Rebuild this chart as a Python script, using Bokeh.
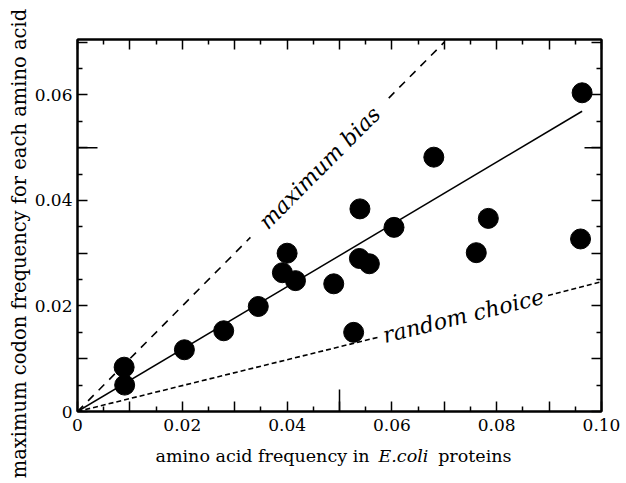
import math
from bokeh.plotting import figure
from bokeh.models import LinearAxis, FixedTicker, Label, Range1d
from bokeh.embed import file_html
from bokeh.resources import INLINE

# ---- data ----
aa_freq = [0.0089, 0.0090, 0.0204, 0.0279, 0.0345, 0.0391, 0.0400, 0.0416, 0.0489,
           0.0527, 0.0539, 0.0538, 0.0557, 0.0604, 0.0680, 0.0761, 0.0784, 0.0960, 0.0963]
codon_freq = [0.0084, 0.0050, 0.0117, 0.0153, 0.0199, 0.0263, 0.0300, 0.0248, 0.0242,
              0.0150, 0.0384, 0.0290, 0.0280, 0.0349, 0.0482, 0.0301, 0.0366, 0.0327, 0.0604]

fit_x = [0.0, 0.0963]
fit_y = [0.0, 0.0569]

maxbias_x1 = [0.0, 0.0330]
maxbias_y1 = [0.0, 0.0330]
maxbias_x2 = [0.0594, 0.0700]
maxbias_y2 = [0.0594, 0.0700]

random_x1 = [0.0, 0.0575]
random_y1 = [0.0, 0.0141]
random_x2 = [0.0898, 0.1000]
random_y2 = [0.0220, 0.0246]

x_ticks = [0.0, 0.01, 0.02, 0.03, 0.04, 0.05, 0.06, 0.07, 0.08, 0.09, 0.10]
x_minor = [0.005, 0.015, 0.025, 0.035, 0.045, 0.055, 0.065, 0.075, 0.085, 0.095]
x_labels = ["0", "", "0.02", "", "0.04", "", "0.06", "", "0.08", "", "0.10"]
y_ticks = [0.0, 0.01, 0.02, 0.03, 0.04, 0.05, 0.06, 0.07]
y_minor = [0.005, 0.015, 0.025, 0.035, 0.045, 0.055, 0.065]
y_labels = ["0", "", "0.02", "", "0.04", "", "0.06", ""]
long_tick = 0.05

X_MIN, X_MAX = 0.0, 0.10
Y_MIN, Y_MAX = 0.0, 0.0705

W, H = 620, 480
BL, BT = 77, 39
BR, BB = W - 601, H - 411
FW, FH = W - BL - BR, H - BT - BB
px_x = FW / (X_MAX - X_MIN)
px_y = FH / (Y_MAX - Y_MIN)

FONT = "DejaVu Serif"

p = figure(width=W, height=H, x_range=Range1d(X_MIN, X_MAX), y_range=Range1d(Y_MIN, Y_MAX),
           output_backend="svg", toolbar_location=None,
           x_axis_location=None, y_axis_location=None,
           min_border_left=BL, min_border_right=BR, min_border_top=BT, min_border_bottom=BB)
p.grid.visible = False
p.outline_line_color = "black"
p.outline_line_width = 2
p.background_fill_color = "white"
p.border_fill_color = "white"


def make_axis(ticks, minor, labels, show_labels):
    ax = LinearAxis(ticker=FixedTicker(ticks=ticks, minor_ticks=minor))
    ax.major_label_overrides = {t: (l if show_labels else "") for t, l in zip(ticks, labels)}
    ax.major_tick_in = 10
    ax.major_tick_out = 0
    ax.minor_tick_in = 5
    ax.minor_tick_out = 0
    ax.axis_line_width = 2
    ax.major_tick_line_width = 1.5
    ax.minor_tick_line_width = 1.5
    ax.major_label_text_font = FONT
    ax.major_label_text_font_size = "17px" if show_labels else "0px"
    ax.major_label_text_color = "black"
    return ax


xb = make_axis(x_ticks, x_minor, x_labels, True)
xb.major_label_standoff = 7
p.add_layout(xb, "below")
yl = make_axis(y_ticks, y_minor, y_labels, True)
yl.major_label_standoff = 5
p.add_layout(yl, "left")
p.add_layout(make_axis(x_ticks, x_minor, x_labels, False), "above")
p.add_layout(make_axis(y_ticks, y_minor, y_labels, False), "right")

# long ticks at 0.05 on bottom, left and right axes
p.segment(x0=[long_tick], y0=[Y_MIN], x1=[long_tick], y1=[Y_MIN + 22 / px_y],
          line_color="black", line_width=1.5)
p.segment(x0=[X_MIN], y0=[long_tick], x1=[X_MIN + 20 / px_x], y1=[long_tick],
          line_color="black", line_width=1.5)
p.segment(x0=[X_MAX], y0=[long_tick], x1=[X_MAX - 17 / px_x], y1=[long_tick],
          line_color="black", line_width=1.5)

# lines
p.line(fit_x, fit_y, line_color="black", line_width=1.5)
for xs, ys in ((maxbias_x1, maxbias_y1), (maxbias_x2, maxbias_y2)):
    p.line(xs, ys, line_color="black", line_width=1.6, line_dash="8 7")
for xs, ys in ((random_x1, random_y1), (random_x2, random_y2)):
    p.line(xs, ys, line_color="black", line_width=1.6, line_dash="5 3")

# points
p.scatter(aa_freq, codon_freq, size=20, color="black")

# line annotations
mb_cx = (maxbias_x1[1] + maxbias_x2[0]) / 2
mb_slope = (maxbias_y2[1] - maxbias_y1[0]) / (maxbias_x2[1] - maxbias_x1[0])
mb_angle = math.atan2(mb_slope * px_y, px_x)
p.add_layout(Label(x=mb_cx, y=mb_cx * mb_slope, text="maximum bias", angle=mb_angle,
                   text_align="center", text_baseline="middle", text_font=FONT,
                   text_font_style="italic", text_font_size="22px", text_color="black"))

rc_cx = (random_x1[1] + random_x2[0]) / 2
rc_slope = (random_y2[1] - random_y1[0]) / (random_x2[1] - random_x1[0])
rc_angle = math.atan2(rc_slope * px_y, px_x)
p.add_layout(Label(x=rc_cx, y=rc_cx * rc_slope, text="random choice", angle=rc_angle,
                   text_align="center", text_baseline="middle", text_font=FONT,
                   text_font_style="italic", text_font_size="22px", text_color="black"))

# axis titles: canvas-positioned labels kept in the side panels (so they are not clipped);
# spread over panels so that no panel grows past its border
TY = 455
p.add_layout(Label(x=369, y=TY, x_units="canvas", y_units="canvas",
                   text="amino acid frequency in", text_align="right", text_baseline="middle",
                   text_font=FONT, text_font_size="17.5px", text_color="black"), "below")
p.add_layout(Label(x=378, y=TY, x_units="canvas", y_units="canvas",
                   text="E.coli", text_align="left", text_baseline="middle",
                   text_font=FONT, text_font_style="italic", text_font_size="17.5px",
                   text_color="black"), "above")
p.add_layout(Label(x=511, y=TY, x_units="canvas", y_units="canvas",
                   text="proteins", text_align="right", text_baseline="middle",
                   text_font=FONT, text_font_size="17.5px", text_color="black"), "below")
p.add_layout(Label(x=19, y=243, x_units="canvas", y_units="canvas",
                   text="maximum codon frequency for each amino acid", angle=math.pi / 2,
                   text_align="center", text_baseline="middle",
                   text_font=FONT, text_font_size="19.5px", text_color="black"), "left")

open("out.html", "w").write(file_html(p, INLINE))
